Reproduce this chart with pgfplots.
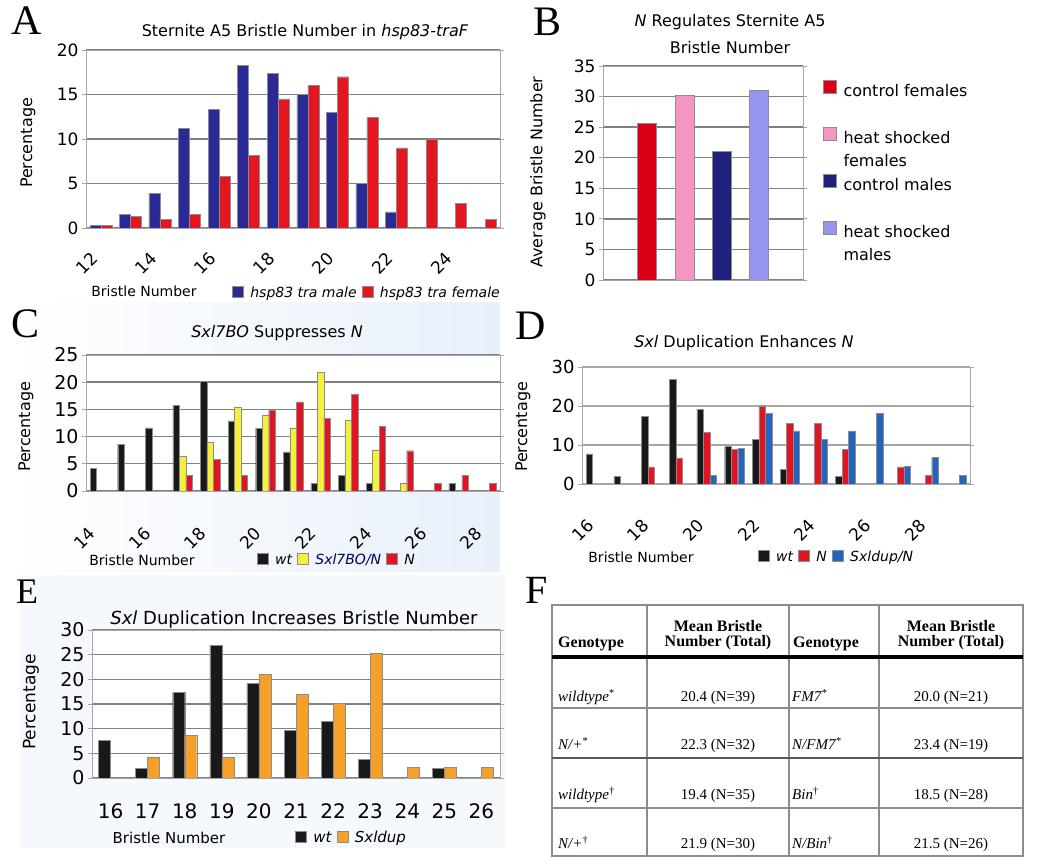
\documentclass[border=0pt]{standalone}
\usepackage{pgfplots}
\pgfplotsset{compat=1.18}
\usepackage{fontspec}
\setmainfont{DejaVu Sans}
\newfontfamily\tms{Liberation Serif}
\newcommand\fsz[1]{\fontsize{#1}{#1}\selectfont}

\definecolor{aBlue}{RGB}{42,42,150}
\definecolor{aRed}{RGB}{228,22,32}
\definecolor{bRed}{RGB}{218,0,22}
\definecolor{bPink}{RGB}{245,150,195}
\definecolor{bNavy}{RGB}{32,32,125}
\definecolor{bLav}{RGB}{150,150,238}
\definecolor{cBlack}{RGB}{25,25,25}
\definecolor{cYellow}{RGB}{245,240,60}
\definecolor{cRed}{RGB}{225,20,35}
\definecolor{dBlue}{RGB}{35,100,190}
\definecolor{eOrange}{RGB}{245,160,40}
\definecolor{bgC}{RGB}{232,240,250}
\definecolor{bgE}{RGB}{245,248,252}

\pgfplotsset{
  sq legend/.style={legend image code/.code={\fill[##1] (0pt,-4pt) rectangle (11pt,7pt);}},
  xl/.style={
    scale only axis, anchor=south west, ybar=0pt, ymin=0,
    axis background/.style={fill=white},
    axis line style={draw=black!35, line width=0.8pt},
    ymajorgrids, major grid style={draw=black!50, line width=1.4pt},
    xtick style={draw=none},
    ytick style={draw=black!35, line width=0.8pt},
    tick align=outside, major tick length=4pt,
    /pgf/number format/assume math mode=true,
    legend cell align=left,
    legend style={draw=none, fill=none, legend columns=-1, anchor=west,
      /tikz/every even column/.append style={column sep=3pt},
      /tikz/every odd column/.append style={column sep=5pt}},
    every axis plot post/.append style={draw=black!45, line width=0.3pt, sq legend},
  },
}

\begin{document}
\begin{tikzpicture}
\useasboundingbox (0pt,0pt) rectangle (1050pt,867pt);
% panel backgrounds
\shade[left color=white, right color=bgC] (8pt,564pt) rectangle (500pt,295pt);
\fill[bgE] (20pt,292pt) rectangle (505pt,19pt);

% ---------- A ----------
\begin{axis}[xl, at={(86pt,639pt)}, width=414pt, height=178pt,
  xmin=11.5, xmax=25.5, ymax=20, ytick={0,5,...,20}, xtick={12,14,...,24},
  bar width=11pt,
  yticklabel style={font=\fsz{17}},
  xticklabel style={font=\fsz{17}, xshift=-11pt, yshift=-14pt, rotate=45, anchor=north east},
  legend style={at={(0.345,-0.365)}, font=\fsz{14}\itshape},
]
\addplot[fill=aBlue] coordinates {(12,0.3) (13,1.5) (14,3.9) (15,11.2) (16,13.3) (17,18.3) (18,17.4) (19,15.0) (20,13.0) (21,5.0) (22,1.8)};
\addplot[fill=aRed] coordinates {(12,0.3) (13,1.3) (14,1.0) (15,1.5) (16,5.8) (17,8.2) (18,14.5) (19,16.0) (20,17.0) (21,12.4) (22,9.0) (23,10.0) (24,2.8) (25,1.0)};
\legend{hsp83 tra male, hsp83 tra female}
\end{axis}
\node[font=\tms\fsz{42}] at (27pt,846pt) {A};
\node[font=\fsz{16}] at (305pt,835pt) {Sternite A5 Bristle Number in \textit{hsp83-traF}};
\node[font=\fsz{16}, rotate=90] at (28pt,724pt) {Percentage};
\node[font=\fsz{14}] at (144pt,576pt) {Bristle Number};

% ---------- B ----------
\begin{axis}[xl, at={(603pt,587pt)}, width=200pt, height=214pt,
  xmin=-0.18, xmax=5.18, ymax=35, ytick={0,5,...,35}, xtick=\empty,
  bar width=19pt,
  yticklabel style={font=\fsz{17}},
  legend columns=1,
  legend style={at={(1.085,0.945)}, anchor=north west, font=\fontsize{16}{23}\selectfont,
    row sep=27pt, /tikz/every even column/.append style={column sep=2pt}},
  every axis plot post/.append style={legend image code/.code={\fill[#1] (0pt,-2pt) rectangle (13pt,11pt);}},
]
\addplot[fill=bRed, bar shift=0pt] coordinates {(1,25.7)};
\addplot[fill=bPink, bar shift=0pt] coordinates {(2,30.3)};
\addplot[fill=bNavy, bar shift=0pt] coordinates {(3,21.1)};
\addplot[fill=bLav, bar shift=0pt] coordinates {(4,31.0)};
\legend{\parbox[t]{125pt}{control females},
        \parbox[t]{125pt}{heat shocked\\females},
        \parbox[t]{125pt}{control males},
        \parbox[t]{125pt}{heat shocked\\males}}
\end{axis}
\node[font=\tms\fsz{42}] at (548pt,845pt) {B};
\node[font=\fsz{16}] at (730pt,845pt) {\textit{N} Regulates Sternite A5};
\node[font=\fsz{16}] at (730pt,819pt) {Bristle Number};
\node[font=\fsz{16}, rotate=90] at (538pt,695pt) {Average Bristle Number};

% ---------- C ----------
\begin{axis}[xl, at={(86pt,376pt)}, width=414pt, height=136pt,
  xmin=13.5, xmax=28.5, ymax=25, ytick={0,5,...,25}, xtick={14,16,...,28},
  bar width=6.5pt,
  yticklabel style={font=\fsz{19}},
  xticklabel style={font=\fsz{17}, xshift=-12pt, yshift=-26pt, rotate=45, anchor=north east},
  legend style={at={(0.405,-0.51)}, font=\fsz{14}\itshape},
]
\addplot[fill=cBlack] coordinates {(14,4.2) (15,8.6) (16,11.6) (17,15.8) (18,20.2) (19,12.9) (20,11.5) (21,7.2) (22,1.4) (23,2.9) (24,1.4) (27,1.4)};
\addplot[fill=cYellow] coordinates {(17,6.4) (18,9.0) (19,15.4) (20,13.9) (21,11.6) (22,21.8) (23,13.0) (24,7.6) (25,1.4)};
\addplot[fill=cRed] coordinates {(17,2.9) (18,5.8) (19,2.9) (20,14.8) (21,16.4) (22,13.4) (23,17.8) (24,11.9) (25,7.4) (26,1.4) (27,2.9) (28,1.4)};
\legend{wt, \textcolor{black!60!blue}{Sxl7BO/N}, N}
\end{axis}
\node[font=\tms\fsz{42}] at (26pt,543pt) {C};
\node[font=\fsz{16}] at (277pt,534pt) {\textit{Sxl7BO} Suppresses \textit{N}};
\node[font=\fsz{16}, rotate=90] at (26pt,440pt) {Percentage};
\node[font=\fsz{14}] at (142pt,307pt) {Bristle Number};

% ---------- D ----------
\begin{axis}[xl, at={(582pt,383pt)}, width=388pt, height=117pt,
  xmin=15.5, xmax=29.5, ymax=30, ytick={0,10,20,30}, xtick={16,18,...,28},
  bar width=6.5pt,
  major grid style={draw=black!35, line width=1.4pt},
  yticklabel style={font=\fsz{18}},
  xticklabel style={font=\fsz{17}, xshift=-10pt, yshift=-25pt, rotate=45, anchor=north east},
  legend style={at={(0.445,-0.624)}, font=\fsz{14}\itshape},
]
\addplot[fill=cBlack] coordinates {(16,7.7) (17,1.9) (18,17.3) (19,26.9) (20,19.2) (21,9.6) (22,11.5) (23,3.8) (25,1.9)};
\addplot[fill=cRed] coordinates {(18,4.4) (19,6.7) (20,13.3) (21,8.9) (22,20.0) (23,15.6) (24,15.6) (25,8.9) (27,4.4) (28,2.2)};
\addplot[fill=dBlue] coordinates {(20,2.3) (21,9.1) (22,18.2) (23,13.6) (24,11.4) (25,13.6) (26,18.2) (27,4.5) (28,6.8) (29,2.3)};
\legend{wt, N, Sxldup/N}
\end{axis}
\node[font=\tms\fsz{42}] at (531pt,541pt) {D};
\node[font=\fsz{16}] at (744pt,524pt) {\textit{Sxl} Duplication Enhances \textit{N}};
\node[font=\fsz{16}, rotate=90] at (523pt,440pt) {Percentage};
\node[font=\fsz{14}] at (641pt,310pt) {Bristle Number};

% ---------- E ----------
\begin{axis}[xl, at={(92pt,89pt)}, width=408pt, height=148pt,
  xmin=15.5, xmax=26.5, ymax=30, ytick={0,5,...,30}, xtick={16,17,...,26},
  bar width=12pt,
  yticklabel style={font=\fsz{19}},
  xticklabel style={font=\fsz{20}, yshift=-18pt},
  legend style={at={(0.49,-0.405)}, font=\fsz{15}\itshape},
]
\addplot[fill=cBlack] coordinates {(16,7.7) (17,1.9) (18,17.3) (19,26.9) (20,19.2) (21,9.6) (22,11.5) (23,3.8) (25,1.9)};
\addplot[fill=eOrange] coordinates {(17,4.3) (18,8.6) (19,4.3) (20,21.0) (21,17.0) (22,15.1) (23,25.3) (24,2.2) (25,2.2) (26,2.2)};
\legend{wt, Sxldup}
\end{axis}
\node[font=\tms\fsz{36}] at (27pt,275pt) {E};
\node[font=\fsz{18}] at (294pt,247pt) {\textit{Sxl} Duplication Increases Bristle Number};
\node[font=\fsz{17}, rotate=90] at (31pt,165pt) {Percentage};
\node[font=\fsz{15}] at (169pt,29pt) {Bristle Number};

% ---------- F (table) ----------
\node[font=\tms\fsz{40}] at (537pt,277pt) {F};
\draw[black!45, line width=1.5pt] (552pt,262pt) rectangle (1023pt,11pt);
\foreach \x in {647,789,879} \draw[black!45, line width=1.2pt] (\x pt,262pt) -- (\x pt,11pt);
\draw[black, line width=4pt] (552pt,210pt) -- (1023pt,210pt);
\draw[black!45, line width=1.2pt] (552pt,159pt) -- (1023pt,159pt);
\draw[black!65, line width=2pt] (552pt,109pt) -- (1023pt,109pt);
\draw[black!45, line width=1.2pt] (552pt,59pt) -- (1023pt,59pt);
\begin{scope}[every node/.style={font=\tms\fsz{15}, inner sep=0pt}]
\node[anchor=base west, font=\tms\fsz{16}\bfseries] at (558pt,219pt) {Genotype};
\node[anchor=base, font=\tms\fsz{16}\bfseries] at (718pt,235pt) {Mean Bristle};
\node[anchor=base, font=\tms\fsz{16}\bfseries] at (718pt,220pt) {Number (Total)};
\node[anchor=base west, font=\tms\fsz{16}\bfseries] at (793pt,219pt) {Genotype};
\node[anchor=base, font=\tms\fsz{16}\bfseries] at (951pt,235pt) {Mean Bristle};
\node[anchor=base, font=\tms\fsz{16}\bfseries] at (951pt,220pt) {Number (Total)};
\node[anchor=base west] at (558pt,165pt) {\textit{wildtype}\textsuperscript{*}};
\node[anchor=base] at (718pt,165pt) {20.4 (N=39)};
\node[anchor=base west] at (792pt,165pt) {\textit{FM7}\textsuperscript{*}};
\node[anchor=base] at (951pt,165pt) {20.0 (N=21)};
\node[anchor=base west] at (558pt,117pt) {\textit{N/+}\textsuperscript{*}};
\node[anchor=base] at (718pt,117pt) {22.3 (N=32)};
\node[anchor=base west] at (792pt,117pt) {\textit{N/FM7}\textsuperscript{*}};
\node[anchor=base] at (951pt,117pt) {23.4 (N=19)};
\node[anchor=base west] at (558pt,67pt) {\textit{wildtype}\textsuperscript{\dag}};
\node[anchor=base] at (718pt,67pt) {19.4 (N=35)};
\node[anchor=base west] at (792pt,67pt) {\textit{Bin}\textsuperscript{\dag}};
\node[anchor=base] at (951pt,67pt) {18.5 (N=28)};
\node[anchor=base west] at (558pt,18pt) {\textit{N/+}\textsuperscript{\dag}};
\node[anchor=base] at (718pt,18pt) {21.9 (N=30)};
\node[anchor=base west] at (792pt,18pt) {\textit{N/Bin}\textsuperscript{\dag}};
\node[anchor=base] at (951pt,18pt) {21.5 (N=26)};
\end{scope}
\end{tikzpicture}
\end{document}
